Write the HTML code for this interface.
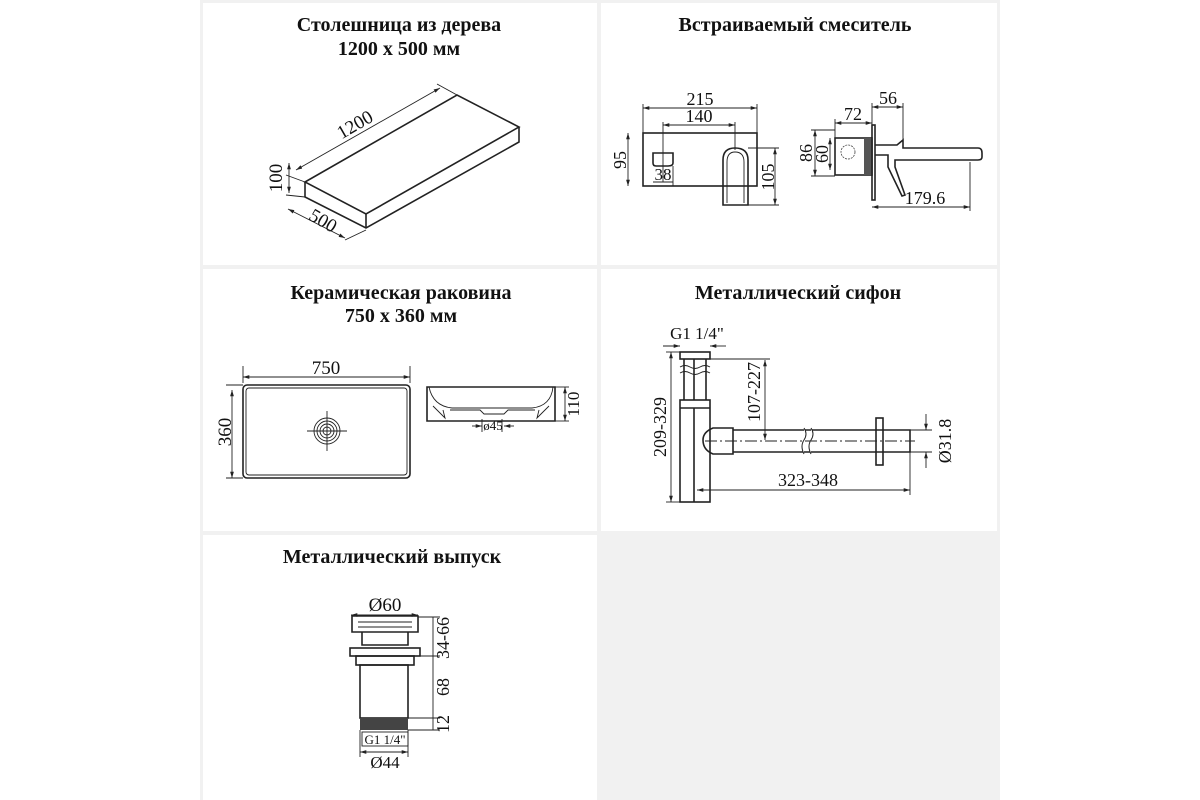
<!DOCTYPE html>
<html><head><meta charset="utf-8"><style>
html,body{margin:0;padding:0;background:#fff}
svg{display:block}
text{font-family:"Liberation Serif",serif;fill:#111}
.t{font-weight:bold;font-size:20px;text-anchor:middle}
.d{text-anchor:middle}
.l{stroke:#222;stroke-width:1.6;fill:none}
.m{stroke:#222;stroke-width:0.9;fill:none}
</style></head><body>
<svg width="1200" height="800" viewBox="0 0 1200 800" xmlns="http://www.w3.org/2000/svg" font-size="15">
<defs>
<marker id="a" viewBox="0 0 10 10" refX="10" refY="5" markerWidth="7" markerHeight="7" orient="auto-start-reverse"><path d="M0,2 L10,5 L0,8 z" fill="#222"/></marker>
</defs>
<rect x="200" y="0" width="800" height="800" fill="#f1f1f1"/>
<rect x="203" y="3" width="394" height="262" fill="#fff"/>
<rect x="601" y="3" width="396" height="262" fill="#fff"/>
<rect x="203" y="269" width="394" height="262" fill="#fff"/>
<rect x="601" y="269" width="396" height="262" fill="#fff"/>
<rect x="203" y="535" width="394" height="265" fill="#fff"/>

<!-- Titles -->
<text class="t" x="399" y="31">Столешница из дерева</text>
<text class="t" x="399" y="55">1200 x 500 мм</text>
<text class="t" x="795" y="31">Встраиваемый смеситель</text>
<text class="t" x="401" y="299">Керамическая раковина</text>
<text class="t" x="401" y="322">750 x 360 мм</text>
<text class="t" x="798" y="299">Металлический сифон</text>
<text class="t" x="392" y="563">Металлический выпуск</text>

<!-- Countertop -->
<polygon class="l" points="305,182 457,95 519,127 366,214"/>
<polyline class="l" points="305,182 305,197 366,228 519,142 519,127"/>
<line class="l" x1="366" y1="214" x2="366" y2="228"/>
<line class="m" x1="296" y1="170" x2="440" y2="88" marker-start="url(#a)" marker-end="url(#a)"/>
<line class="m" x1="437" y1="84" x2="457" y2="95"/>
<text class="d" font-size="19" transform="translate(358,130) rotate(-30)">1200</text>
<line class="m" x1="289" y1="163" x2="289" y2="193" marker-start="url(#a)" marker-end="url(#a)"/>
<line class="m" x1="286" y1="175" x2="305" y2="182"/><line class="m" x1="286" y1="195" x2="305" y2="197"/>
<text class="d" font-size="19" transform="translate(282,178) rotate(-90)">100</text>
<line class="m" x1="288" y1="209" x2="345" y2="238" marker-start="url(#a)" marker-end="url(#a)"/>
<line class="m" x1="345" y1="240" x2="366" y2="230"/>
<text class="d" font-size="19" transform="translate(320,226) rotate(30)">500</text>

<!-- Faucet front -->
<rect class="l" x="643" y="133" width="114" height="53"/>
<line class="m" x1="643" y1="108" x2="757" y2="108" marker-start="url(#a)" marker-end="url(#a)"/>
<line class="m" x1="643" y1="104" x2="643" y2="133"/><line class="m" x1="757" y1="104" x2="757" y2="133"/>
<text class="d" font-size="18" x="700" y="105">215</text>
<line class="m" x1="663" y1="125" x2="735" y2="125" marker-start="url(#a)" marker-end="url(#a)"/>
<line class="m" x1="663" y1="122" x2="663" y2="182"/><line class="m" x1="735" y1="122" x2="735" y2="150"/>
<text class="d" font-size="18" x="699" y="122">140</text>
<path class="l" d="M653,153 L673,153 L673,163 Q673,166 668,166 L656,166 Q653,166 653,163 Z"/>
<line class="m" x1="653" y1="182" x2="673" y2="182"/>
<line class="m" x1="673" y1="166" x2="673" y2="186"/>
<text class="d" font-size="17" x="663" y="180">38</text>
<path class="l" d="M723,205 L723,160 Q723,148 735,148 Q748,148 748,160 L748,205 Z"/>
<path class="m" d="M727,203 L727,162 Q727,152 735,152 Q744,152 744,162 L744,203"/>
<line class="m" x1="628" y1="133" x2="628" y2="186" marker-start="url(#a)" marker-end="url(#a)"/>
<text class="d" font-size="18" transform="translate(626,160) rotate(-90)">95</text>
<line class="m" x1="775" y1="148" x2="775" y2="205" marker-start="url(#a)" marker-end="url(#a)"/>
<line class="m" x1="748" y1="148" x2="779" y2="148"/><line class="m" x1="748" y1="205" x2="779" y2="205"/>
<text class="d" font-size="18" transform="translate(774,177) rotate(-90)">105</text>

<!-- Faucet side -->
<rect class="l" x="835" y="138" width="37" height="37"/>
<circle cx="848" cy="152" r="7" fill="none" stroke="#444" stroke-width="0.8" stroke-dasharray="2,1"/>
<rect x="864" y="138" width="8" height="37" fill="#555"/>
<rect class="l" x="872" y="125" width="3" height="75"/>
<path class="l" d="M875,145 L897,145 L903,140 L903,148 L978,148 Q982,148 982,153 L982,157 Q982,160 978,160 L895,160 L895,167 L905,195 L902,196 L888,167 L888,155 L875,155"/>
<line class="m" x1="835" y1="123" x2="872" y2="123" marker-start="url(#a)" marker-end="url(#a)"/>
<line class="m" x1="835" y1="119" x2="835" y2="138"/>
<text class="d" font-size="18" x="853" y="120">72</text>
<line class="m" x1="872" y1="107" x2="903" y2="107" marker-start="url(#a)" marker-end="url(#a)"/>
<line class="m" x1="872" y1="103" x2="872" y2="125"/><line class="m" x1="903" y1="103" x2="903" y2="140"/>
<text class="d" font-size="18" x="888" y="104">56</text>
<line class="m" x1="815" y1="130" x2="815" y2="176" marker-start="url(#a)" marker-end="url(#a)"/>
<line class="m" x1="811" y1="130" x2="835" y2="130"/><line class="m" x1="811" y1="176" x2="835" y2="176"/>
<text class="d" font-size="18" transform="translate(812,153) rotate(-90)">86</text>
<line class="m" x1="830" y1="138" x2="830" y2="170" marker-start="url(#a)" marker-end="url(#a)"/>
<text class="d" font-size="18" transform="translate(828,154) rotate(-90)">60</text>
<line class="m" x1="872" y1="207" x2="970" y2="207" marker-start="url(#a)" marker-end="url(#a)"/>
<line class="m" x1="970" y1="162" x2="970" y2="211"/>
<text class="d" font-size="18" x="925" y="204">179.6</text>

<!-- Sink top -->
<rect class="l" x="243" y="385" width="167" height="93" rx="4"/>
<rect class="m" x="246" y="388" width="161" height="87" rx="3"/>
<line class="m" x1="243" y1="377" x2="410" y2="377" marker-start="url(#a)" marker-end="url(#a)"/>
<line class="m" x1="243" y1="366" x2="243" y2="383"/><line class="m" x1="410" y1="366" x2="410" y2="383"/>
<text class="d" font-size="19" x="326" y="374">750</text>
<line class="m" x1="232" y1="390" x2="232" y2="478" marker-start="url(#a)" marker-end="url(#a)"/>
<line class="m" x1="226" y1="385" x2="243" y2="385"/><line class="m" x1="226" y1="478" x2="243" y2="478"/>
<text class="d" font-size="19" transform="translate(231,432) rotate(-90)">360</text>
<g class="m"><circle cx="327" cy="431" r="4"/><circle cx="327" cy="431" r="7"/><circle cx="327" cy="431" r="10"/><circle cx="327" cy="431" r="13"/></g>
<line class="m" x1="307" y1="431" x2="347" y2="431"/><line class="m" x1="327" y1="411" x2="327" y2="451"/>
<!-- Sink side -->
<path class="l" d="M427,387 L555,387 L555,421 L427,421 Z"/>
<path class="m" d="M429,387 Q433,406 452,408 L532,408 Q551,406 553,387"/>
<path class="m" d="M433,406 L445,418 L443,410 M549,406 L537,418 L539,410 M450,410 L480,410 L484,414 L504,414 L508,410 L535,410"/>
<line class="m" x1="565" y1="387" x2="565" y2="421" marker-start="url(#a)" marker-end="url(#a)"/>
<line class="m" x1="555" y1="387" x2="569" y2="387"/><line class="m" x1="555" y1="421" x2="569" y2="421"/>
<text class="d" font-size="17" transform="translate(579,404) rotate(-90)">110</text>
<line class="m" x1="472" y1="426" x2="482" y2="426" marker-end="url(#a)"/>
<line class="m" x1="514" y1="426" x2="504" y2="426" marker-end="url(#a)"/>
<line class="m" x1="482" y1="419" x2="482" y2="432"/><line class="m" x1="502" y1="419" x2="502" y2="432"/>
<text class="d" font-size="13" x="493" y="430">ø45</text>

<!-- Siphon -->
<text class="d" font-size="17" x="697" y="339">G1 1/4"</text>
<line class="m" x1="663" y1="346" x2="680" y2="346" marker-end="url(#a)"/>
<line class="m" x1="726" y1="346" x2="710" y2="346" marker-end="url(#a)"/>
<rect class="l" x="680" y="352" width="30" height="7"/>
<line class="l" x1="684" y1="359" x2="684" y2="400"/><line class="l" x1="706" y1="359" x2="706" y2="400"/>
<line class="l" x1="694" y1="359" x2="694" y2="400"/>
<path class="m" d="M680,367 q5,-3 10,0 t10,0 t10,0 M680,373 q5,-3 10,0 t10,0 t10,0" stroke="#222"/>
<rect class="l" x="680" y="400" width="30" height="102"/>
<line class="l" x1="680" y1="408" x2="710" y2="408"/>
<line class="l" x1="694" y1="408" x2="694" y2="502"/>
<path class="l" d="M733,428 L713,428 Q703,432 703,440 Q703,450 713,454 L733,454 Z"/>
<path class="l" d="M733,430 L910,430 L910,452 L733,452"/>
<line class="m" x1="705" y1="441" x2="915" y2="441" stroke-dasharray="12,3,2,3"/>
<path d="M804,428 q4,6 0,12 q-4,6 0,14 M811,428 q4,6 0,12 q-4,6 0,14" stroke="#222" stroke-width="1" fill="#fff"/>
<rect class="l" x="876" y="418" width="7" height="47" fill="#fff"/>
<line class="m" x1="671" y1="352" x2="671" y2="502" marker-start="url(#a)" marker-end="url(#a)"/>
<line class="m" x1="666" y1="352" x2="680" y2="352"/><line class="m" x1="666" y1="502" x2="680" y2="502"/>
<text class="d" font-size="18" transform="translate(666,427) rotate(-90)">209-329</text>
<line class="m" x1="765" y1="360" x2="765" y2="440" marker-start="url(#a)" marker-end="url(#a)"/>
<line class="m" x1="710" y1="359" x2="770" y2="359"/>
<text class="d" font-size="18" transform="translate(760,392) rotate(-90)">107-227</text>
<line class="m" x1="697" y1="490" x2="910" y2="490" marker-start="url(#a)" marker-end="url(#a)"/>
<line class="m" x1="910" y1="452" x2="910" y2="495"/>
<text class="d" font-size="18" x="808" y="486">323-348</text>
<line class="m" x1="910" y1="430" x2="932" y2="430"/><line class="m" x1="910" y1="452" x2="932" y2="452"/>
<line class="m" x1="926" y1="414" x2="926" y2="430" marker-end="url(#a)"/>
<line class="m" x1="926" y1="468" x2="926" y2="452" marker-end="url(#a)"/>
<text class="d" font-size="18" transform="translate(951,441) rotate(-90)">Ø31.8</text>

<!-- Drain -->
<text class="d" font-size="19" x="385" y="611">Ø60</text>
<line class="m" x1="351" y1="615" x2="418" y2="615" marker-start="url(#a)" marker-end="url(#a)"/>
<path class="l" d="M352,616 L418,616 L418,632 L352,632 Z"/>
<line class="m" x1="358" y1="622" x2="412" y2="622"/><line class="m" x1="358" y1="627" x2="412" y2="627"/>
<path class="l" d="M362,632 L362,645 L408,645 L408,632"/>
<rect class="l" x="350" y="648" width="70" height="8"/>
<rect class="l" x="356" y="656" width="58" height="9"/>
<rect class="l" x="360" y="665" width="48" height="53"/>
<rect x="360" y="718" width="48" height="12" fill="#444"/>
<line class="m" x1="418" y1="617" x2="440" y2="617"/><line class="m" x1="420" y1="656" x2="440" y2="656"/>
<line class="m" x1="408" y1="718" x2="440" y2="718"/><line class="m" x1="408" y1="730" x2="440" y2="730"/>
<line class="m" x1="433" y1="617" x2="433" y2="730"/>
<text class="d" font-size="18" transform="translate(449,638) rotate(-90)">34-66</text>
<text class="d" font-size="18" transform="translate(449,687) rotate(-90)">68</text>
<text class="d" font-size="18" transform="translate(449,724) rotate(-90)">12</text>
<rect class="m" x="362" y="732" width="46" height="14"/>
<text class="d" font-size="13" x="385" y="744">G1 1/4"</text>
<line class="m" x1="360" y1="730" x2="360" y2="757"/><line class="m" x1="408" y1="730" x2="408" y2="757"/>
<line class="m" x1="360" y1="752" x2="408" y2="752" marker-start="url(#a)" marker-end="url(#a)"/>
<text class="d" font-size="17" x="385" y="768">Ø44</text>
</svg>
</body></html>
